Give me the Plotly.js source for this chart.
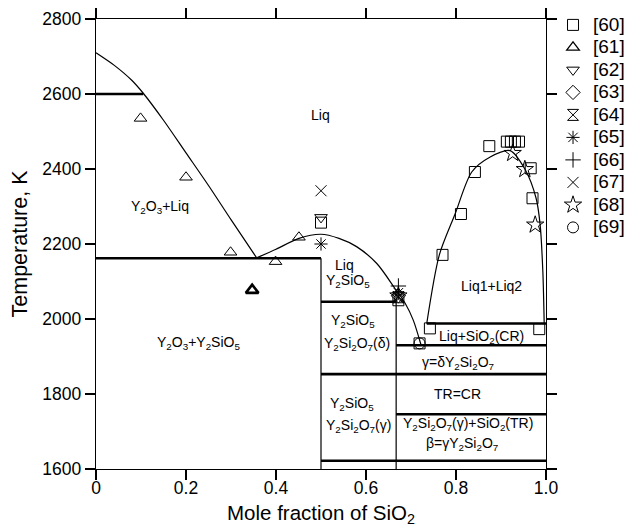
<!DOCTYPE html>
<html>
<head>
<meta charset="utf-8">
<script src="https://cdn.plot.ly/plotly-3.0.1.min.js"></script>
<style>html,body{margin:0;padding:0;background:#fff;}#chart{width:631px;height:527px;}</style>
</head>
<body>
<div id="chart"></div>
<script>
// ---- Phase boundary curves ----
const liqLeftX = [0, 0.04, 0.08, 0.105, 0.15, 0.20, 0.25, 0.30, 0.357];
const liqLeftT = [2710, 2677, 2636, 2602, 2530, 2443, 2356, 2265, 2163];
const liqMidX = [0.357, 0.400, 0.451, 0.500, 0.540, 0.579, 0.624, 0.664, 0.687, 0.705, 0.722];
const liqMidT = [2163, 2186, 2215, 2226, 2215, 2193, 2148, 2082, 2042, 1997, 1932];
const domeX = [0.735, 0.763, 0.798, 0.835, 0.876, 0.920, 0.953, 0.978, 0.987, 0.993, 0.996];
const domeT = [1988, 2171, 2280, 2392, 2432, 2449, 2400, 2322, 2251, 2126, 1988];

// isotherms (thick lines)
const isoT  = [2600, 2162, 2046, 1988, 1930, 1853, 1746, 1622];
const isoX0 = [0, 0, 0.5, 0.735, 0.667, 0.5, 0.667, 0.5];
const isoX1 = [0.105, 0.5, 0.667, 1.0, 1.0, 1.0, 1.0, 1.0];
// vertical compound lines
const vertX  = [0.5, 0.667];
const vertT0 = [1600, 1600];
const vertT1 = [2162, 2080];

// ---- Experimental data ----
const refNames = ['[60]','[61]','[62]','[63]','[64]','[65]','[66]','[67]','[68]','[69]'];
const refSymbols = ['square-open','triangle-up-open','triangle-down-open','diamond-open','hourglass-open','asterisk-open','cross-thin-open','x-thin-open','star-open','circle-open'];
const ref60X = [0.5, 0.672, 0.719, 0.742, 0.770, 0.811, 0.842, 0.874, 0.913, 0.922, 0.931, 0.940, 0.966, 0.970, 0.985];
const ref60T = [2257, 2050, 1935, 1975, 2171, 2280, 2392, 2461, 2473, 2473, 2473, 2473, 2402, 2322, 1973];
const ref61X = [0.099, 0.2, 0.299, 0.347, 0.399, 0.451];
const ref61T = [2535, 2378, 2178, 2077, 2153, 2218];
const ref62X = [0.5];  const ref62T = [2271];
const ref63X = [0.672]; const ref63T = [2062];
const ref64X = [0.672]; const ref64T = [2058];
const ref65X = [0.5, 0.672]; const ref65T = [2200, 2070];
const ref66X = [0.672]; const ref66T = [2088];
const ref67X = [0.5, 0.672]; const ref67T = [2342, 2060];
const ref68X = [0.926, 0.953, 0.976, 0.672]; const ref68T = [2442, 2399, 2251, 2062];
const ref69X = [0.719]; const ref69T = [1935];

// ---- Region labels ----
const labText = ['Liq','Y<sub>2</sub>O<sub>3</sub>+Liq','Y<sub>2</sub>O<sub>3</sub>+Y<sub>2</sub>SiO<sub>5</sub>','Liq','Y<sub>2</sub>SiO<sub>5</sub>','Y<sub>2</sub>SiO<sub>5</sub>','Y<sub>2</sub>Si<sub>2</sub>O<sub>7</sub>(δ)','Y<sub>2</sub>SiO<sub>5</sub>','Y<sub>2</sub>Si<sub>2</sub>O<sub>7</sub>(γ)','Liq1+Liq2','Liq+SiO<sub>2</sub>(CR)','γ=δY<sub>2</sub>Si<sub>2</sub>O<sub>7</sub>','TR=CR','Y<sub>2</sub>Si<sub>2</sub>O<sub>7</sub>(γ)+SiO<sub>2</sub>(TR)','β=γY<sub>2</sub>Si<sub>2</sub>O<sub>7</sub>'];
const labX = [0.498, 0.142, 0.227, 0.552, 0.559, 0.572, 0.581, 0.568, 0.583, 0.879, 0.857, 0.805, 0.803, 0.827, 0.813];
const labT = [2544, 2298, 1935, 2144, 2101, 1995, 1933, 1773, 1715, 2088, 1953, 1882, 1800, 1720, 1668];

const xTicks = [0, 0.2, 0.4, 0.6, 0.8, 1.0];
const xTickText = ['0', '0.2', '0.4', '0.6', '0.8', '1.0'];
const yTicks = [1600, 1800, 2000, 2200, 2400, 2600, 2800];

const refX = [ref60X, ref61X, ref62X, ref63X, ref64X, ref65X, ref66X, ref67X, ref68X, ref69X];
const refT = [ref60T, ref61T, ref62T, ref63T, ref64T, ref65T, ref66T, ref67T, ref68T, ref69T];

const FONT = 'Liberation Sans, Arial, sans-serif';
const traces = [];
const lineStyle = {color: '#000', width: 1.2};
[[liqLeftX, liqLeftT], [liqMidX, liqMidT], [domeX, domeT]].forEach(([xs, ts]) => {
  traces.push({x: xs, y: ts, mode: 'lines', line: Object.assign({shape: 'spline', smoothing: 0.8}, lineStyle), showlegend: false, hoverinfo: 'skip'});
});

const isoXs = [], isoYs = [];
isoT.forEach((t, i) => { isoXs.push(isoX0[i], isoX1[i], null); isoYs.push(t, t, null); });
traces.push({x: isoXs, y: isoYs, mode: 'lines', line: {color: '#000', width: 2.7}, showlegend: false, hoverinfo: 'skip'});
const vXs = [], vYs = [];
vertX.forEach((x, i) => { vXs.push(x, x, null); vYs.push(vertT0[i], vertT1[i], null); });
traces.push({x: vXs, y: vYs, mode: 'lines', line: lineStyle, showlegend: false, hoverinfo: 'skip'});

refNames.forEach((name, i) => {
  const lw = (i === 1) ? refX[i].map((v, k) => k === 3 ? 2.6 : 1) : 1;
  traces.push({
    x: refX[i], y: refT[i], name: '<span style="font-size:19px">' + name + '</span>', mode: 'markers', cliponaxis: false,
    marker: {symbol: refSymbols[i], size: i === 8 ? 13 : 11, color: '#000', line: {color: '#000', width: lw}}
  });
});

const annotations = labText.map((t, i) => ({
  x: labX[i], y: labT[i], xref: 'x', yref: 'y', text: t, showarrow: false,
  font: {family: FONT, size: 14, color: '#000'}
}));

const axisCommon = {
  showline: true, linecolor: '#000', linewidth: 1.3, mirror: 'ticks',
  ticks: 'outside', ticklen: 10, tickwidth: 1.3, tickcolor: '#000',
  showgrid: false, zeroline: false, automargin: false,
  tickfont: {family: FONT, size: 17.5, color: '#000'}
};

const layout = {
  width: 631, height: 527,
  margin: {l: 96, r: 85, t: 19, b: 58, autoexpand: false},
  paper_bgcolor: '#fff', plot_bgcolor: '#fff',
  font: {family: FONT, color: '#000'},
  xaxis: Object.assign({}, axisCommon, {
    range: [0, 1], tickvals: xTicks, ticktext: xTickText, ticklabelstandoff: -7,
    title: {text: 'Mole fraction of SiO<sub>2</sub>', font: {size: 20.5, color: '#000'}, standoff: 9}
  }),
  yaxis: Object.assign({}, axisCommon, {
    range: [1600, 2800], tickvals: yTicks,
    title: {text: 'Temperature, K', font: {size: 21.5, color: '#000'}, standoff: 8}
  }),
  showlegend: true,
  legend: {x: 1.0156, y: 1.023, xanchor: 'left', yanchor: 'top', font: {family: FONT, size: 15, color: '#000'},
           bgcolor: 'rgba(0,0,0,0)', borderwidth: 0, tracegroupgap: 0, itemwidth: 30},
  annotations: annotations
};

Plotly.newPlot('chart', traces, layout, {displayModeBar: false, staticPlot: true});
</script>
</body>
</html>
